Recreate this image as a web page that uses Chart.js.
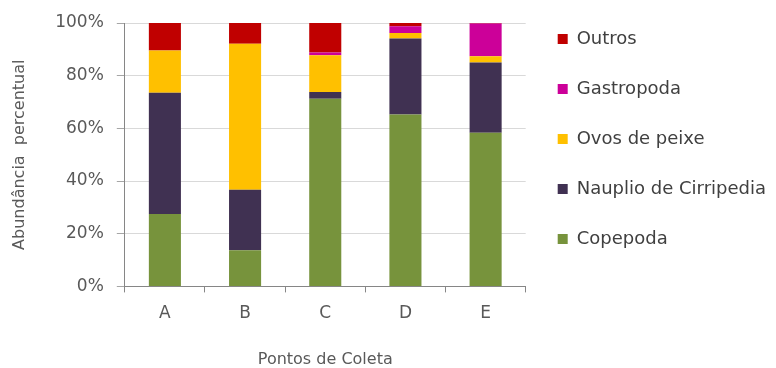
<!DOCTYPE html>
<html>
<head>
<meta charset="utf-8">
<script src="https://cdn.jsdelivr.net/npm/chart.js@4/dist/chart.umd.min.js"></script>
<style>
  html, body { margin: 0; padding: 0; background: #fff; }
  #wrap { width: 776px; height: 368px; }
</style>
</head>
<body>
<div id="wrap"><canvas id="chart" width="776" height="368"></canvas></div>
<script>
const pontos = ["A", "B", "C", "D", "E"];
const copepoda   = [27.5, 13.7, 71.2, 65.3, 58.3];
const nauplio    = [46.0, 23.0,  2.6, 28.8, 26.7];
const ovos       = [16.1, 55.4, 14.0,  2.1,  2.4];
const gastropoda = [ 0.0,  0.0,  1.0,  2.6, 12.4];
const outros     = [10.4,  7.9, 11.2,  1.2,  0.2];
const yTicks = [0, 20, 40, 60, 80, 100];

const textColor = "#595959";
const fontFamily = "'DejaVu Sans', sans-serif";

new Chart(document.getElementById("chart"), {
  type: 'bar',
  data: {
    labels: pontos,
    datasets: [
      { label: 'Copepoda', data: copepoda, backgroundColor: '#77933C' },
      { label: 'Nauplio de Cirripedia', data: nauplio, backgroundColor: '#403152' },
      { label: 'Ovos de peixe', data: ovos, backgroundColor: '#FFC000' },
      { label: 'Gastropoda', data: gastropoda, backgroundColor: '#CC0099' },
      { label: 'Outros', data: outros, backgroundColor: '#C00000' }
    ]
  },
  options: {
    responsive: false,
    animation: false,
    datasets: { bar: { categoryPercentage: 1.0, barPercentage: 0.4 } },
    layout: { padding: { left: 8, top: -2, right: 0, bottom: -1 } },
    plugins: {
      tooltip: { enabled: false },
      legend: {
        position: 'right',
        align: 'start',
        reverse: true,
        maxWidth: 300,
        labels: {
          boxWidth: 10,
          boxHeight: 10,
          padding: 32,
          color: '#404040',
          font: { family: fontFamily, size: 18 }
        }
      }
    },
    scales: {
      x: {
        stacked: true,
        border: { color: '#868686' },
        grid: { drawOnChartArea: false, drawTicks: true, tickLength: 6, color: '#868686' },
        ticks: { color: textColor, padding: 11, font: { family: fontFamily, size: 17 } },
        title: {
          display: true,
          text: 'Pontos de Coleta',
          color: textColor,
          padding: { top: 15, bottom: 0 },
          font: { family: fontFamily, size: 16 }
        }
      },
      y: {
        stacked: true,
        min: 0,
        max: 100,
        afterFit: scale => { scale.paddingTop = 23; },
        afterBuildTicks: scale => { scale.ticks = yTicks.map(v => ({ value: v })); },
        border: { color: '#868686' },
        grid: { color: '#d9d9d9', tickLength: 8, tickColor: '#a6a6a6' },
        ticks: {
          color: textColor,
          padding: 13,
          font: { family: fontFamily, size: 17 },
          callback: v => v + '%'
        },
        title: {
          display: true,
          text: 'Abundância  percentual',
          color: textColor,
          padding: { top: 2, bottom: 13 },
          font: { family: fontFamily, size: 16 }
        }
      }
    }
  }
});
</script>
</body>
</html>
